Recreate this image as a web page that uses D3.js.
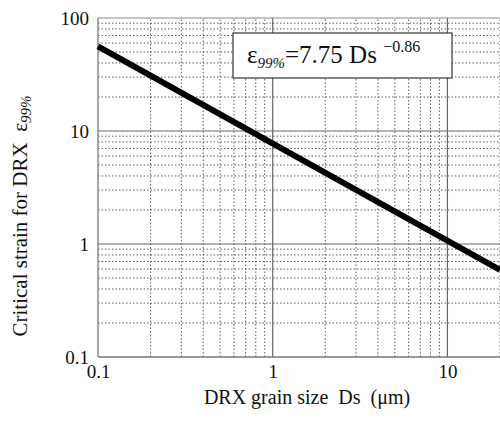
<!DOCTYPE html>
<html>
<head>
<meta charset="utf-8">
<script src="https://cdn.jsdelivr.net/npm/d3@7"></script>
<style>
  body { margin: 0; background: #fff; }
  text { font-family: "Liberation Serif", "Times New Roman", serif; fill: #111; white-space: pre; }
</style>
</head>
<body>
<script>
// data (fit line endpoints)
var grainSize = [0.1, 20];
var critStrain = [56.1, 0.59];
var xTicks = [0.1, 1, 10];
var yTicks = [0.1, 1, 10, 100];
var fitLabel = { coef: '7.75', expo: '\u22120.86' };

var width = 500, height = 421;
var margin = { top: 18, right: 0, bottom: 64, left: 98 };

var svg = d3.select('body').append('svg')
  .attr('width', width).attr('height', height);

var x = d3.scaleLog().domain([0.1, 20]).range([margin.left, width - margin.right]);
var y = d3.scaleLog().domain([0.1, 100]).range([height - margin.bottom, margin.top]);

// minor grid (2..9 in each decade)
var minorX = [], minorY = [];
[0.1, 1, 10].forEach(function (d) {
  for (var k = 2; k <= 9; k++) {
    if (d * k <= 20) minorX.push(d * k);
  }
});
[0.1, 1, 10].forEach(function (d) {
  for (var k = 2; k <= 9; k++) minorY.push(d * k);
});

var grid = svg.append('g');
grid.selectAll('.mx').data(minorX).enter().append('line')
  .attr('x1', x).attr('x2', x)
  .attr('y1', y(0.1)).attr('y2', y(100))
  .attr('stroke', '#333').attr('stroke-width', 0.8)
  .attr('stroke-dasharray', '1.5,2');
grid.selectAll('.my').data(minorY).enter().append('line')
  .attr('y1', y).attr('y2', y)
  .attr('x1', x(0.1)).attr('x2', x(20))
  .attr('stroke', '#333').attr('stroke-width', 0.8)
  .attr('stroke-dasharray', '1.5,2');

// major grid
grid.selectAll('.Mx').data([1, 10]).enter().append('line')
  .attr('x1', x).attr('x2', x)
  .attr('y1', y(0.1)).attr('y2', y(100))
  .attr('stroke', '#666').attr('stroke-width', 1.2);
grid.selectAll('.My').data([1, 10]).enter().append('line')
  .attr('y1', y).attr('y2', y)
  .attr('x1', x(0.1)).attr('x2', x(20))
  .attr('stroke', '#666').attr('stroke-width', 1.2);

// frame
svg.append('line').attr('x1', x(0.1)).attr('x2', x(0.1))
  .attr('y1', y(0.1)).attr('y2', y(100)).attr('stroke', '#888').attr('stroke-width', 1.5);
svg.append('line').attr('x1', x(0.1)).attr('x2', x(20))
  .attr('y1', y(0.1)).attr('y2', y(0.1)).attr('stroke', '#777').attr('stroke-width', 1.5);
svg.append('line').attr('x1', x(0.1)).attr('x2', x(20))
  .attr('y1', y(100)).attr('y2', y(100)).attr('stroke', '#888').attr('stroke-width', 1.2);

// axes (labels only)
var fmt = function (d) { return d < 1 ? '0.1' : String(d); };
var xAxis = svg.append('g')
  .attr('transform', 'translate(0,' + y(0.1) + ')')
  .call(d3.axisBottom(x).tickValues(xTicks).tickFormat(fmt).tickSize(0).tickPadding(8));
var yAxis = svg.append('g')
  .attr('transform', 'translate(' + x(0.1) + ',0)')
  .call(d3.axisLeft(y).tickValues(yTicks).tickFormat(fmt).tickSize(0).tickPadding(9));
[xAxis, yAxis].forEach(function (a) {
  a.select('.domain').remove();
  a.selectAll('text').style('font-family', '"Liberation Serif", serif')
    .style('font-size', '19px').attr('fill', '#111');
});
yAxis.selectAll('text').attr('dy', '0.35em');

// fit line
var line = d3.line()
  .x(function (d, i) { return x(grainSize[i]); })
  .y(function (d) { return y(d); });
svg.append('path').datum(critStrain)
  .attr('d', line)
  .attr('fill', 'none').attr('stroke', '#000').attr('stroke-width', 6);

// equation box
svg.append('rect')
  .attr('x', 233).attr('y', 33).attr('width', 219).attr('height', 45)
  .attr('fill', '#fff').attr('stroke', '#333').attr('stroke-width', 1.2);
var eq = svg.append('text').attr('x', 247).attr('y', 63)
  .style('font-size', '25px');
eq.append('tspan').text('\u03b5');
eq.append('tspan').attr('dy', 5).style('font-size', '15px').style('font-style', 'italic').text('99%');
eq.append('tspan').attr('dy', -5).text('=' + fitLabel.coef + ' Ds ');
eq.append('tspan').attr('dy', -11).style('font-size', '16px').text(fitLabel.expo);

// axis titles
svg.append('text').attr('x', 307).attr('y', 404)
  .attr('text-anchor', 'middle').style('font-size', '20px')
  .text('DRX grain size  Ds  (\u03bcm)');

var yt = svg.append('text')
  .attr('transform', 'translate(27,216) rotate(-90)')
  .attr('text-anchor', 'middle').style('font-size', '21px');
yt.append('tspan').text('Critical strain for DRX  \u03b5');
yt.append('tspan').attr('dy', 4).style('font-size', '15px').style('font-style', 'italic').text('99%');
</script>
</body>
</html>
